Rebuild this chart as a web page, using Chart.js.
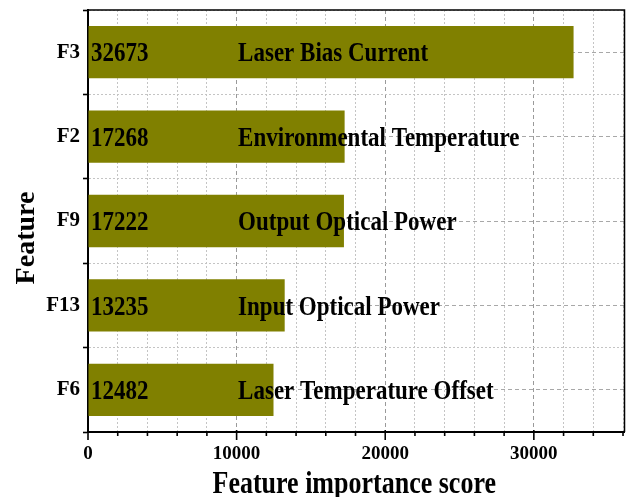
<!DOCTYPE html>
<html lang="en">
<head>
  <meta charset="UTF-8">
  <title>Feature importance</title>
  <style>
    body { margin: 0; background: #fff; }
    #box { width: 626px; height: 497px; position: relative; }
  </style>
  <script src="https://cdn.jsdelivr.net/npm/chart.js"></script>
</head>
<body>
  <div id="box"><canvas id="chart"></canvas></div>
  <script>
    // data
    const features = ['F3', 'F2', 'F9', 'F13', 'F6'];
    const scores = [32673, 17268, 17222, 13235, 12482];
    const featureNames = ['Laser Bias Current', 'Environmental Temperature', 'Output Optical Power',
                          'Input Optical Power', 'Laser Temperature Offset'];
    const xTickLabels = [0, 10000, 20000, 30000];

    const SERIF = '"Liberation Serif", "Times New Roman", serif';
    const OLIVE = '#808000';

    // text drawn a bit taller, like the original figure
    function tallText(ctx, txt, x, y, size, sy) {
      ctx.save();
      ctx.translate(x, y);
      ctx.scale(1, sy);
      ctx.fillText(txt, 0, size * 0.33);
      ctx.restore();
    }

    const extras = {
      id: 'extras',
      afterDatasetsDraw(chart) {
        const { ctx, chartArea: a, scales: { x, y } } = chart;
        ctx.save();
        // top and right frame
        ctx.strokeStyle = '#000';
        ctx.lineWidth = 1.5;
        ctx.beginPath();
        ctx.moveTo(a.left, a.top);
        ctx.lineTo(a.right, a.top);
        ctx.lineTo(a.right, a.bottom);
        ctx.stroke();

        // x tick marks, major + minor
        ctx.lineWidth = 1.6;
        x.ticks.forEach(t => {
          const px = x.getPixelForValue(t.value);
          const major = t.value % 10000 === 0;
          ctx.beginPath();
          ctx.moveTo(px, a.bottom - (major ? 2 : 0));
          ctx.lineTo(px, a.bottom + (major ? 8 : 4));
          ctx.stroke();
        });

        // bar labels
        ctx.fillStyle = '#000';
        ctx.font = 'bold 23px ' + SERIF;
        ctx.textAlign = 'left';
        ctx.textBaseline = 'alphabetic';
        features.forEach((f, i) => {
          const cy = y.getPixelForValue(i);
          tallText(ctx, String(scores[i]), x.getPixelForValue(0) + 3, cy, 23, 1.2);
          tallText(ctx, featureNames[i], x.getPixelForValue(10000) + 1.5, cy, 23, 1.2);
        });

        // axis titles
        ctx.textAlign = 'center';
        ctx.font = 'bold 26px ' + SERIF;
        ctx.save();
        ctx.translate((a.left + a.right) / 2 - 2, 493);
        ctx.scale(1, 1.25);
        ctx.fillText('Feature importance score', 0, 0);
        ctx.restore();

        ctx.font = 'bold 28px ' + SERIF;
        ctx.save();
        ctx.translate(25, 238);
        ctx.rotate(-Math.PI / 2);
        ctx.fillText('Feature', 0, 28 * 0.33);
        ctx.restore();
        ctx.restore();
      }
    };

    new Chart(document.getElementById('chart'), {
      type: 'bar',
      data: {
        labels: features,
        datasets: [{
          data: scores,
          backgroundColor: OLIVE,
          borderWidth: 0,
          barPercentage: 0.62,
          categoryPercentage: 1
        }]
      },
      options: {
        indexAxis: 'y',
        responsive: true,
        maintainAspectRatio: false,
        animation: false,
        layout: { padding: { top: 10, right: 1.5, left: 0, bottom: 0 } },
        plugins: { legend: { display: false }, tooltip: { enabled: false } },
        scales: {
          x: {
            min: 0,
            max: 36100,
            afterFit: s => { s.height = 65; s.paddingRight = 0; s.paddingLeft = 0; },
            // minor step 2000, labelled every 10000
            afterBuildTicks: s => {
              const t = [];
              for (let v = 0; v <= 36000; v += 2000) t.push({ value: v });
              s.ticks = t;
            },
            ticks: {
              padding: 11,
              color: '#000',
              font: { family: SERIF, size: 19, weight: 'bold' },
              autoSkip: false,
              maxRotation: 0,
              callback: v => xTickLabels.includes(v) ? String(v) : ''
            },
            grid: {
              drawTicks: false,
              lineWidth: 1,
              color: c => {
                if (!c.tick) return '#c4c4c4';
                return c.tick.value % 10000 === 0 ? '#9a9a9a' : '#c4c4c4';
              }
            },
            border: {
              color: '#000',
              width: 2,
              dash: c => c.tick ? (c.tick.value % 10000 === 0 ? [4, 3] : [2, 2]) : []
            }
          },
          y: {
            afterFit: s => { s.width = 88; s.paddingTop = 0; s.paddingBottom = 0; },
            ticks: {
              padding: 3,
              color: '#000',
              font: { family: SERIF, size: 21, weight: 'bold' }
            },
            grid: {
              offset: true,
              color: '#c4c4c4',
              lineWidth: 1,
              tickColor: '#000',
              tickWidth: 1.6,
              tickLength: 5
            },
            border: {
              color: '#000',
              width: 2,
              dash: c => c.tick ? [2, 2] : []
            }
          },
          // dashed lines through the bar centres
          yc: {
            type: 'category',
            labels: features,
            position: 'left',
            offset: true,
            afterFit: s => { s.width = 0; s.paddingTop = 0; s.paddingBottom = 0; },
            ticks: { display: false },
            grid: { offset: false, color: '#a8a8a8', lineWidth: 1, drawTicks: false },
            border: { display: false, dash: c => c.tick ? [4, 3] : [] }
          }
        }
      },
      plugins: [extras]
    });
  </script>
</body>
</html>
